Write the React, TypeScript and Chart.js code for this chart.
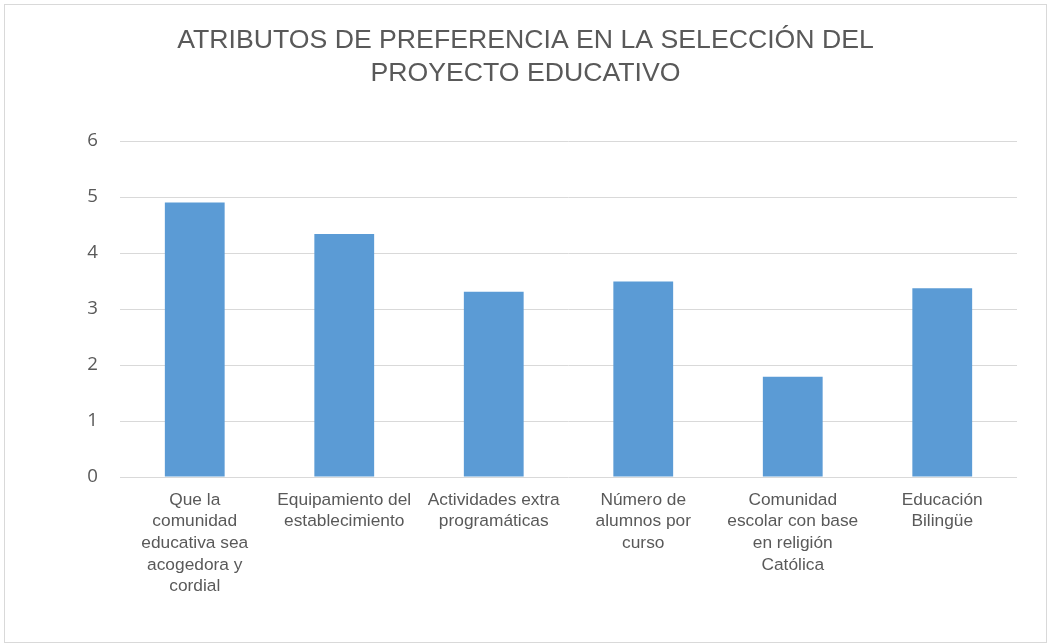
import React, { useEffect, useRef } from "react";
import { Chart, registerables } from "chart.js";

Chart.register(...registerables);

const titleLines = ["ATRIBUTOS DE PREFERENCIA EN LA SELECCIÓN DEL", "PROYECTO EDUCATIVO"];
const categories: string[][] = [
  ["Que la", "comunidad", "educativa sea", "acogedora y", "cordial"],
  ["Equipamiento del", "establecimiento"],
  ["Actividades extra", "programáticas"],
  ["Número de", "alumnos por", "curso"],
  ["Comunidad", "escolar con base", "en religión", "Católica"],
  ["Educación", "Bilingüe"],
];
const values: number[] = [4.9, 4.34, 3.31, 3.49, 1.79, 3.37];
const yMin = 0;
const yMax = 6;
const yStep = 1;

const FONT = "'Liberation Sans', Arial, Helvetica, sans-serif";
const TICK_FONT = "'Open Sans', 'Noto Sans', sans-serif";
const TEXT = "#595959";
const GRID = "#D9D9D9";
const BAR = "#5B9BD5";

const borderPlugin = {
  id: "outerBorder",
  beforeDraw(chart: any) {
    const ctx = chart.ctx;
    ctx.save();
    ctx.fillStyle = "#ffffff";
    ctx.fillRect(0, 0, chart.width, chart.height);
    ctx.strokeStyle = GRID;
    ctx.lineWidth = 1;
    ctx.strokeRect(4.5, 4.5, 1042, 638);
    ctx.restore();
  },
};

export default function App() {
  const ref = useRef<HTMLCanvasElement | null>(null);
  useEffect(() => {
    if (!ref.current) return;
    const chart = new Chart(ref.current, {
      type: "bar",
      data: {
        labels: categories,
        datasets: [
          {
            data: values,
            backgroundColor: BAR,
            borderWidth: 0,
            barPercentage: 0.4,
            categoryPercentage: 1,
          },
        ],
      },
      options: {
        responsive: false,
        animation: false,
        devicePixelRatio: 1,
        layout: { padding: { left: 34, right: 31, top: 24, bottom: 27 } },
        plugins: {
          legend: { display: false },
          tooltip: { enabled: false },
          title: {
            display: true,
            text: titleLines,
            color: TEXT,
            font: { family: FONT, size: 26.67, weight: "normal", lineHeight: 1.25 },
            padding: { top: 0, bottom: 50.33 },
          },
        },
        scales: {
          x: {
            grid: { display: false, drawTicks: false },
            border: { display: false },
            ticks: {
              color: TEXT,
              font: { family: FONT, size: 17.33, lineHeight: 1.25 },
              padding: 12,
              maxRotation: 0,
              minRotation: 0,
              autoSkip: false,
            },
            afterFit: (scale: any) => {
              scale.height = 140;
            },
          },
          y: {
            min: yMin,
            max: yMax,
            grid: { color: GRID, lineWidth: 1, drawTicks: false },
            border: { display: false },
            ticks: {
              stepSize: yStep,
              color: TEXT,
              font: { family: TICK_FONT, size: 18.67 },
              padding: 22,
            },
            afterFit: (scale: any) => {
              scale.width = 86;
            },
          },
        },
      },
      plugins: [borderPlugin],
    });
    return () => chart.destroy();
  }, []);
  return (
    <div style={{ position: "fixed", left: 0, top: 0, width: 1048, height: 644, background: "#fff" }}>
      <canvas ref={ref} width={1048} height={644} style={{ display: "block", width: 1048, height: 644 }} />
    </div>
  );
}
